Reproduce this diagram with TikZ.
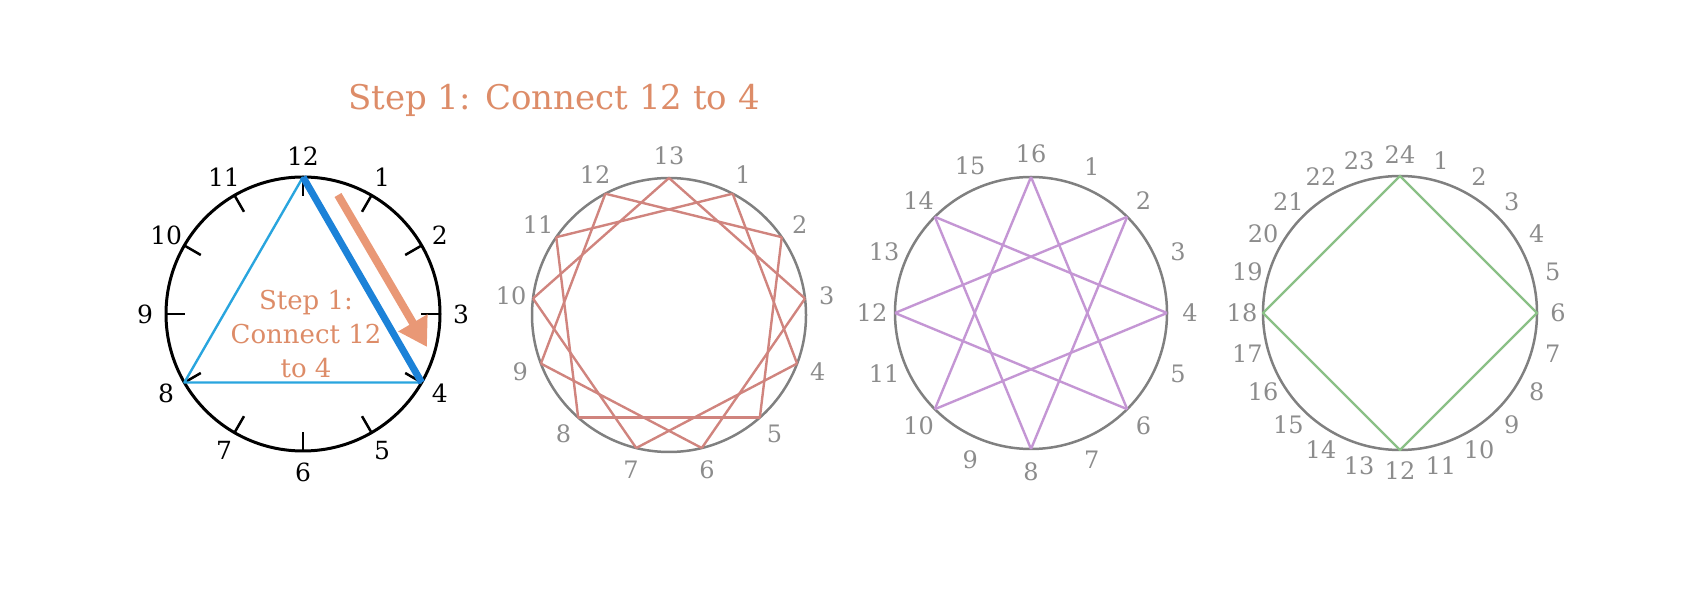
\documentclass[tikz,border=0pt]{standalone}
\usepackage{fontspec}
\setmainfont{DejaVu Serif}
\usepackage{tikz}
\usetikzlibrary{arrows.meta}
\definecolor{stepcolor}{RGB}{221,140,104}
\definecolor{arrowcolor}{RGB}{233,152,118}
\definecolor{thinblue}{RGB}{41,165,222}
\definecolor{thickblue}{RGB}{28,130,216}
\definecolor{rimgray}{RGB}{128,128,128}
\definecolor{labelgray}{RGB}{140,140,140}
\definecolor{rosechord}{RGB}{208,132,126}
\definecolor{lilacchord}{RGB}{196,150,212}
\definecolor{greenchord}{RGB}{138,192,134}
\tikzset{
clockface/.style={
  draw=black,
  line width=3pt
  },
dial/.style={
  draw=rimgray,
  line width=2.5pt
  },
hour/.style={font=\fontsize{25}{25}\selectfont, inner sep=0pt},
tag/.style={font=\fontsize{24}{24}\selectfont, text=labelgray, inner sep=0pt},
chord/.style={line width=2.4pt, line join=round}
}

\begin{document}
\begin{tikzpicture}[x=1pt, y=1pt]
\useasboundingbox (0,0) rectangle (1694,608);

\node[font=\fontsize{34}{34}\selectfont, text=stepcolor, anchor=base]	(title)	at (554,498)	{Step 1: Connect 12 to 4};

% clock with 12 hours
\begin{scope}[shift={(303,294)}]
\draw[clockface] (0,0) circle (137);
\foreach \h in {1,...,12} {
  \coordinate (h\h) at (90-\h*30:137);
  \coordinate (t\h) at (90-\h*30:118);
  \draw[line width=2.5pt] (h\h) -- (t\h);
  \node[hour]	(hr\h)	at (90-\h*30:158)	{\h};
}
\draw[chord, thinblue] 	(h4) -- (h8) -- (h12);
\draw[line width=7pt, thickblue] 	(h12) -- (h4);
\coordinate (arrowtail) at (35,119);
\coordinate (arrowhead) at (124,-33);
\draw[arrowcolor, line width=8pt, -{Triangle[length=28pt, width=32pt]}] 	(arrowtail) -- (arrowhead);
\node[font=\fontsize{26}{34}\selectfont, text=stepcolor, align=center]	(inner)	at (3,-20)	{Step 1:\\Connect 12\\to 4};
\end{scope}

% 13 points, every third
\begin{scope}[shift={(669,293)}]
\draw[dial] (0,0) circle (137);
\foreach \k in {1,...,13} {
  \coordinate (b\k) at ({90-\k*360/13}:137);
  \node[tag]	(ta\k)	at ({90-\k*360/13}:159)	{\k};
}
\foreach \k in {1,...,13} {
  \pgfmathtruncatemacro{\j}{mod(\k+2,13)+1}
  \draw[chord, rosechord] 	(b\k) -- (b\j);
}
\end{scope}

% 16 points, star through the even ones
\begin{scope}[shift={(1031,295)}]
\draw[dial] (0,0) circle (136);
\foreach \k in {1,...,16} {
  \coordinate (c\k) at (90-\k*22.5:136);
  \node[tag]	(tb\k)	at (90-\k*22.5:159)	{\k};
}
\foreach \k in {2,4,...,16} {
  \pgfmathtruncatemacro{\j}{mod(\k+5,16)+1}
  \draw[chord, lilacchord] 	(c\k) -- (c\j);
}
\end{scope}

% 24 points, square
\begin{scope}[shift={(1400,295)}]
\draw[dial] (0,0) circle (137);
\foreach \k in {1,...,24} {
  \coordinate (d\k) at (90-\k*15:137);
  \node[tag]	(tc\k)	at (90-\k*15:158)	{\k};
}
\draw[chord, greenchord] 	(d24) -- (d6) -- (d12) -- (d18) -- cycle;
\end{scope}
\end{tikzpicture}
\end{document}
